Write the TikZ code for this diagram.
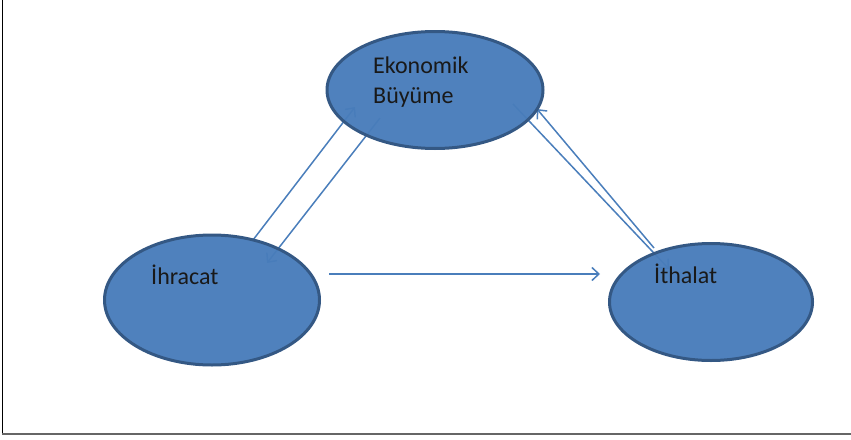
\documentclass[tikz,border=0pt]{standalone}
\usepackage{fontspec}
\setmainfont{Carlito}
\usetikzlibrary{shapes.geometric,arrows.meta}
\definecolor{ovalfill}{RGB}{72,124,186}
\definecolor{ovaledge}{RGB}{52,88,132}
\definecolor{linkblue}{RGB}{74,126,187}
\pgfdeclarelayer{links}
\pgfsetlayers{links,main}
\begin{document}
\begin{tikzpicture}[x=1pt,y=-1pt,
  oval/.style={ellipse, draw=ovaledge, line width=3pt, fill=ovalfill,
    fill opacity=0.96, inner sep=0pt},
  link/.style={draw=linkblue, line width=1.5pt,
    -{Straight Barb[length=7pt,width=13pt,line width=1.5pt]}},
  caption/.style={anchor=base west, inner sep=0pt, text=black!90,
    font=\fontsize{24}{30}\selectfont}]
  \useasboundingbox (0,0) rectangle (851,439);

  % page frame (left and bottom edges)
  \draw[black, line width=1.2pt] (2.5,0) -- (2.5,434);
  \draw[black!60, line width=2pt] (2,434) -- (851,434);

  % the three ovals
  \node[oval, minimum width=216pt, minimum height=117pt] (eko) at (435,90) {};
  \node[oval, minimum width=215pt, minimum height=130pt] (ihr) at (212,300) {};
  \node[oval, minimum width=203pt, minimum height=117pt] (ith) at (711,302) {};

  % captions
  \node[caption] (tEko) at (373,73) {Ekonomik};
  \node[caption] (tBuy) at (373,103) {Büyüme};
  \node[caption] (tIhr) at (151,284) {İhracat};
  \node[caption] (tIth) at (654,283) {İthalat};

  % connector end points
  \coordinate (l1s) at (253,240);
  \coordinate (l1e) at (355,107);
  \coordinate (l2s) at (380,118);
  \coordinate (l2e) at (267,263);
  \coordinate (r1s) at (513,104);
  \coordinate (r1e) at (669,269);
  \coordinate (r2s) at (654,248);
  \coordinate (r2e) at (537,109);
  \coordinate (hs) at (329,274);
  \coordinate (he) at (600,274);

  \begin{pgfonlayer}{links}
    \draw[link] (l1s) -- (l1e);
    \draw[link] (l2s) -- (l2e);
    \draw[link] (r1s) -- (r1e);
    \draw[link] (r2s) -- (r2e);
  \end{pgfonlayer}
  \draw[link] (hs) -- (he);
\end{tikzpicture}
\end{document}
